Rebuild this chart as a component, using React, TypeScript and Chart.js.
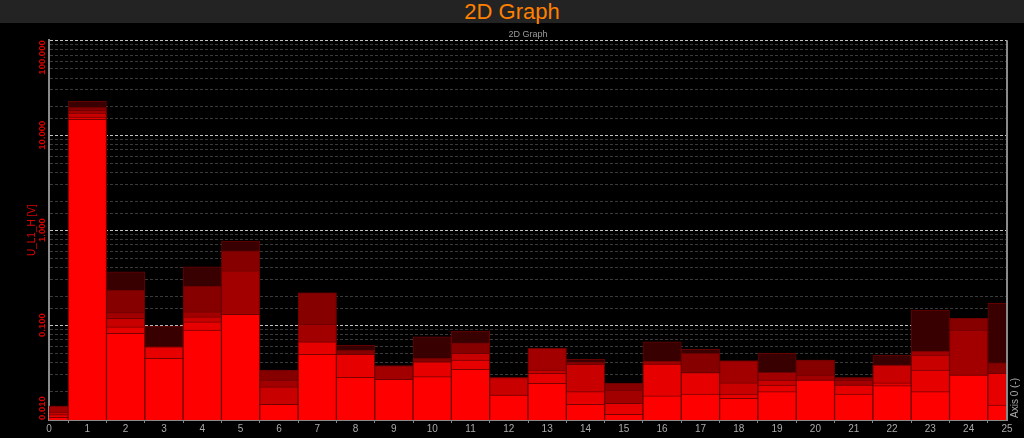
import React, { useEffect, useRef } from "react";
import { Chart, registerables } from "chart.js";

Chart.register(...registerables);

// ---- data ----
const bins = [0, 1, 2, 3, 4, 5, 6, 7, 8, 9, 10, 11, 12, 13, 14, 15, 16, 17, 18, 19, 20, 21, 22, 23, 24, 25];

const yTickValues = [0.01, 0.1, 1, 10, 100];
const yTickLabels = ["0.010", "0.100", "1.000", "10.000", "100.000"];

const pageTitle = "2D Graph";
const chartTitle = "2D Graph";
const yAxisTitle = "U_L1_H [V]";
const xAxisTitle = "Axis 0 (-)";

// overlapping layers (brightest / lowest first)
const layer1 = [0.0107, 14.7, 0.082, 0.0446, 0.0886, 0.13, 0.0146, 0.0492, 0.0281, 0.0268, 0.0286, 0.0342, 0.0183, 0.0243, 0.0146, 0.0115, 0.018, 0.0187, 0.0169, 0.0199, 0.0264, 0.0188, 0.023, 0.0199, 0.0298, 0.0144];
const layer2 = [0.0114, 15.5, 0.096, 0.059, 0.108, 0.13, 0.0146, 0.0667, 0.0492, 0.0268, 0.0411, 0.0428, 0.0183, 0.031, 0.0199, 0.015, 0.0388, 0.0315, 0.0187, 0.0233, 0.0264, 0.0233, 0.0247, 0.0336, 0.0298, 0.031];
const layer3 = [0.0121, 17.1, 0.118, 0.059, 0.122, 0.13, 0.0224, 0.0667, 0.0492, 0.0268, 0.0411, 0.0504, 0.0279, 0.0336, 0.0386, 0.015, 0.0388, 0.0315, 0.0247, 0.0264, 0.0264, 0.0233, 0.0379, 0.0483, 0.0298, 0.031];
const layer4 = [0.014, 18.3, 0.135, 0.059, 0.138, 0.373, 0.0264, 0.1017, 0.0492, 0.0373, 0.0411, 0.0504, 0.0279, 0.0569, 0.0386, 0.0207, 0.0418, 0.0315, 0.0421, 0.0318, 0.0298, 0.0264, 0.0379, 0.0533, 0.0886, 0.031];
const layer5 = [0.014, 19.7, 0.233, 0.059, 0.257, 0.605, 0.0336, 0.219, 0.0546, 0.0373, 0.045, 0.0651, 0.0279, 0.0569, 0.0411, 0.0243, 0.0418, 0.0504, 0.0421, 0.0318, 0.0428, 0.0279, 0.0379, 0.0533, 0.1177, 0.0401];
const layer6 = [0.014, 22.8, 0.364, 0.0977, 0.411, 0.766, 0.0336, 0.219, 0.0611, 0.0373, 0.0753, 0.0865, 0.0279, 0.0569, 0.0435, 0.0243, 0.0667, 0.0555, 0.0421, 0.0504, 0.0428, 0.0279, 0.0483, 0.1438, 0.1177, 0.169];

const layers = [layer1, layer2, layer3, layer4, layer5, layer6];
const layerColors = ["#ff0000", "#e60000", "#c80000", "#a20000", "#860000", "#380000"];

const FONT = '"Liberation Sans", Arial, sans-serif';

const isMajor = (v: number) => {
  if (!v || v <= 0) return false;
  const l = Math.log10(v);
  return Math.abs(l - Math.round(l)) < 1e-6;
};

const overlayPlugin = {
  id: "overlay",
  afterDraw(chart: any) {
    const { ctx, chartArea, scales } = chart;
    const y = scales.y;
    ctx.save();
    // right frame line
    ctx.strokeStyle = "#8a8a8a";
    ctx.lineWidth = 2;
    ctx.beginPath();
    ctx.moveTo(chartArea.right, chartArea.top);
    ctx.lineTo(chartArea.right, chartArea.bottom);
    ctx.stroke();

    // y tick labels (rotated)
    ctx.font = `bold 9.5px ${FONT}`;
    ctx.fillStyle = "#dd0000";
    ctx.textAlign = "center";
    ctx.textBaseline = "middle";
    yTickValues.forEach((v, i) => {
      const label = yTickLabels[i];
      const half = ctx.measureText(label).width / 2;
      let py = y.getPixelForValue(v);
      py = Math.min(Math.max(py, chartArea.top + half), chartArea.bottom - half);
      ctx.save();
      ctx.translate(chartArea.left - 7, py);
      ctx.rotate(-Math.PI / 2);
      ctx.fillText(label, 0, 0);
      ctx.restore();
    });

    // x axis title at right end
    ctx.font = `10px ${FONT}`;
    ctx.fillStyle = "#aaaaaa";
    ctx.textAlign = "left";
    ctx.textBaseline = "middle";
    ctx.translate(chartArea.right + 8, chartArea.bottom - 2);
    ctx.rotate(-Math.PI / 2);
    ctx.fillText(xAxisTitle, 0, 0);
    ctx.restore();
  },
};

export default function App() {
  const canvasRef = useRef<HTMLCanvasElement | null>(null);

  useEffect(() => {
    if (!canvasRef.current) return;
    const datasets = layers.map((layer, i) => ({
      label: `L${i + 1}`,
      data: bins.map((b, j) => ({ x: b, y: layer[j] })),
      backgroundColor: layerColors[i],
      borderColor: "rgba(110,0,0,0.9)",
      borderWidth: 1,
      grouped: false,
      barPercentage: 1,
      categoryPercentage: 1,
      clip: 0,
    }));

    const chart = new Chart(canvasRef.current, {
      type: "bar",
      data: { datasets },
      plugins: [overlayPlugin],
      options: {
        animation: false,
        responsive: false,
        maintainAspectRatio: false,
        layout: { padding: { left: 0, right: 17, top: 0, bottom: 0 } },
        plugins: {
          legend: { display: false },
          tooltip: { enabled: false },
          title: {
            display: true,
            text: chartTitle,
            fullSize: false,
            color: "#9a9a9a",
            font: { size: 9, family: FONT, weight: "normal" },
            padding: { top: 6.5, bottom: 0 },
          },
        },
        scales: {
          x: {
            type: "linear",
            min: 0,
            max: 25,
            offset: false,
            afterFit: (s: any) => {
              s.height = 18;
            },
            ticks: {
              stepSize: 1,
              autoSkip: false,
              maxRotation: 0,
              color: "#aaaaaa",
              font: { size: 10, family: FONT },
              padding: 0,
            },
            grid: { drawOnChartArea: false, drawTicks: true, tickLength: 3, color: "#888888" },
            border: { color: "#8a8a8a", width: 2 },
          },
          y: {
            type: "logarithmic",
            min: 0.01,
            max: 100,
            afterFit: (s: any) => {
              s.width = 49;
            },
            ticks: { display: false, autoSkip: false },
            title: {
              display: true,
              text: yAxisTitle,
              color: "#e00000",
              font: { size: 10, family: FONT },
              padding: { top: 26, bottom: 0 },
            },
            grid: {
              drawTicks: false,
              lineWidth: 1,
              color: (c: any) => (isMajor(c.tick && c.tick.value) ? "#c4c4c4" : "#3a3a3a"),
            },
            border: { color: "#8a8a8a", width: 2, dash: [3, 2] },
          },
        },
      },
    } as any);
    return () => chart.destroy();
  }, []);

  return (
    <div
      style={{
        position: "fixed",
        left: 0,
        top: 0,
        width: 1024,
        height: 438,
        background: "#000",
        overflow: "hidden",
      }}
    >
      <div
        style={{
          height: 23,
          background: "#232323",
          color: "#ff8000",
          fontFamily: FONT,
          fontSize: 22,
          lineHeight: "23px",
          textAlign: "center",
        }}
      >
        {pageTitle}
      </div>
      <canvas ref={canvasRef} width={1024} height={415} style={{ display: "block" }} />
    </div>
  );
}
